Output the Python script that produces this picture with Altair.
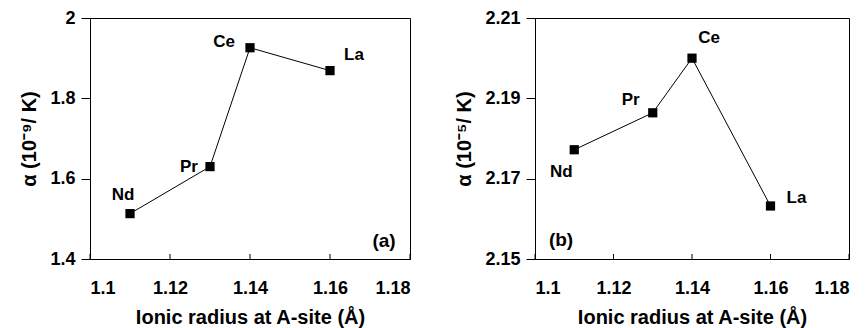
import altair as alt
import pandas as pd

# Data
elements = ["Nd", "Pr", "Ce", "La"]
radius = [1.11, 1.13, 1.14, 1.16]
alpha_a = [1.513, 1.630, 1.926, 1.869]
alpha_b = [2.1772, 2.1864, 2.2000, 2.1632]

x_ticks = [1.1, 1.12, 1.14, 1.16, 1.18]
y_ticks_a = [1.4, 1.6, 1.8, 2.0]
y_ticks_b = [2.15, 2.17, 2.19, 2.21]

# label offsets (style only)
off_a = {"Nd": (-7, -19), "Pr": (-21, 0), "Ce": (-26, -6), "La": (24, -16)}
off_b = {"Nd": (-13, 22), "Pr": (-22, -13), "Ce": (17, -20), "La": (26, -8)}

FONT = "Liberation Sans"


def panel(yvals, yticks, ydomain, ytitle, offsets, tag, tagx, tagy, w, h, fmt):
    df = pd.DataFrame({"r": radius, "a": yvals, "el": elements})
    xs = alt.X("r:Q", scale=alt.Scale(domain=[1.1, 1.18]),
               axis=alt.Axis(values=x_ticks, format=".2~f", ticks=False,
                             labelPadding=20, title="Ionic radius at A-site (Å)",
                             titlePadding=10))
    ys = alt.Y("a:Q", scale=alt.Scale(domain=ydomain),
               axis=alt.Axis(values=yticks, format=fmt, ticks=True, tickSize=9,
                             tickWidth=1, tickColor="black", labelPadding=6,
                             title=ytitle, titlePadding=10))
    base = alt.Chart(df)
    line = base.mark_line(color="black", strokeWidth=1).encode(x=xs, y=ys)
    pts = base.mark_point(shape="square", filled=True, color="black", size=85, opacity=1).encode(x="r:Q", y="a:Q")
    tdf = pd.DataFrame({"t": x_ticks})
    xt = alt.Chart(tdf).mark_rule(color="black", strokeWidth=1).encode(
        x="t:Q", y=alt.value(h - 5), y2=alt.value(h))
    layers = [line, pts, xt]
    for el in elements:
        dx, dy = offsets[el]
        layers.append(
            base.transform_filter(alt.datum.el == el).mark_text(
                font=FONT, fontWeight="bold", fontSize=17, dx=dx, dy=dy, color="black"
            ).encode(x="r:Q", y="a:Q", text="el:N")
        )
    layers.append(
        alt.Chart(pd.DataFrame({"t": [tag]})).mark_text(
            font=FONT, fontWeight="bold", fontSize=19, color="black"
        ).encode(x=alt.value(tagx), y=alt.value(tagy), text="t:N")
    )
    return alt.layer(*layers).properties(width=w, height=h)


left = panel(alpha_a, y_ticks_a, [1.4, 2.0], "α (10⁻⁹/ K)", off_a, "(a)", 294, 223, 320, 241, ".1~f")
right = panel(alpha_b, y_ticks_b, [2.15, 2.21], "α (10⁻⁵/ K)", off_b, "(b)", 26, 222, 314, 241, ".2f")

chart = alt.hconcat(left, right, spacing=43).properties(
    padding={"left": 11, "top": 0, "right": 5, "bottom": 0}
).configure_view(stroke="black", strokeWidth=1).configure_axis(
    domainColor="black", tickColor="black", labelColor="black", titleColor="black",
    labelFont=FONT, titleFont=FONT, labelFontWeight="bold", titleFontWeight="bold",
    labelFontSize=18, titleFontSize=20, grid=False, domainWidth=1
)

chart.save("out.html", embed_options={"renderer": "svg", "actions": False})
